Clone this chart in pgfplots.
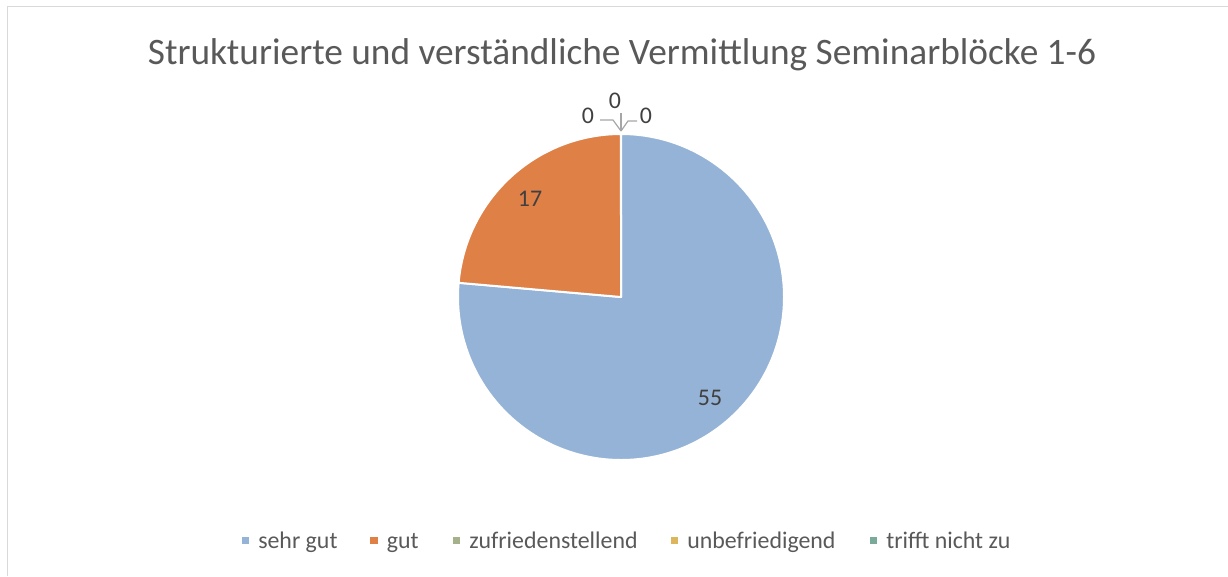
\documentclass[border=0pt]{standalone}
\usepackage{pgfplots}
\usepackage{pgfplotstable}
\pgfplotsset{compat=1.18}
\usepackage{fontspec}
\setmainfont{Carlito}
\definecolor{cA}{HTML}{95B3D7}
\definecolor{cB}{HTML}{DF8047}
\definecolor{cC}{HTML}{A4B18A}
\definecolor{cD}{HTML}{DDB55C}
\definecolor{cE}{HTML}{7BAA9A}
\definecolor{txt}{HTML}{595959}
\definecolor{lbl}{HTML}{404040}
\definecolor{lead}{HTML}{A6A6A6}
\definecolor{frame}{HTML}{D9D9D9}
\pgfplotstableread{
label value
sehr 55
gut 17
zuf 0
unb 0
tri 0
}\pietable
\newcommand\legitem[3]{%
  \fill[#2] (axis cs:#1-3.8,536.8) rectangle (axis cs:#1+3.8,544.4);
  \node[anchor=base west, inner sep=0pt, text=txt, font=\fontsize{17.9pt}{21pt}\selectfont] at (axis cs:#1+12.5,548.5) {#3};
}
\begin{document}
\begin{tikzpicture}
\pgfplotstablegetelem{0}{value}\of\pietable \let\vA\pgfplotsretval
\pgfplotstablegetelem{1}{value}\of\pietable \let\vB\pgfplotsretval
\pgfplotstablegetelem{2}{value}\of\pietable \let\vC\pgfplotsretval
\pgfplotstablegetelem{3}{value}\of\pietable \let\vD\pgfplotsretval
\pgfplotstablegetelem{4}{value}\of\pietable \let\vE\pgfplotsretval
\pgfmathsetmacro\total{\vA+\vB+\vC+\vD+\vE}
\pgfmathsetmacro\aEnd{90-360*(\vA/\total)}
\pgfmathsetmacro\bEnd{\aEnd-360*(\vB/\total)}
\begin{axis}[
  scale only axis, width=921pt, height=432pt,
  xmin=0, xmax=1228, ymin=0, ymax=576, y dir=reverse,
  hide axis, clip=false,
]
% frame (top and left edges visible)
\draw[frame, line width=1.2pt] (axis cs:7.5,576) -- (axis cs:7.5,6.5) -- (axis cs:1228,6.5);
% title
\node[anchor=base, text=txt, font=\fontsize{28pt}{33pt}\selectfont] at (axis cs:622,64) {Strukturierte und verständliche Vermittlung Seminarblöcke 1-6};
% pie sectors
\filldraw[fill=cA, draw=white, line width=1.5pt, line join=round] (axis cs:621,297) -- ++(90:122.25pt) arc[start angle=90, end angle=\aEnd, radius=122.25pt] -- cycle;
\filldraw[fill=cB, draw=white, line width=1.5pt, line join=round] (axis cs:621,297) -- ++(\aEnd:122.25pt) arc[start angle=\aEnd, end angle=\bEnd, radius=122.25pt] -- cycle;
% data labels
\node[text=lbl, font=\fontsize{17.9pt}{21pt}\selectfont] at (axis cs:710,398) {\vA};
\node[text=lbl, font=\fontsize{17.9pt}{21pt}\selectfont] at (axis cs:530,199) {\vB};
% zero labels with leader lines
\draw[lead, line width=0.9pt] (axis cs:600,120) -- (axis cs:613,120) -- (axis cs:621,131);
\draw[lead, line width=0.9pt] (axis cs:621,113) -- (axis cs:621,131);
\draw[lead, line width=0.9pt] (axis cs:637,121) -- (axis cs:628,121) -- (axis cs:621,131);
\node[text=lbl, font=\fontsize{17.9pt}{21pt}\selectfont] at (axis cs:588,116) {\vC};
\node[text=lbl, font=\fontsize{17.9pt}{21pt}\selectfont] at (axis cs:615,101) {\vD};
\node[text=lbl, font=\fontsize{17.9pt}{21pt}\selectfont] at (axis cs:646,116) {\vE};
% legend
\legitem{245.5}{cA}{sehr gut}
\legitem{374}{cB}{gut}
\legitem{456.5}{cC}{zufriedenstellend}
\legitem{674.5}{cD}{unbefriedigend}
\legitem{873.5}{cE}{trifft nicht zu}
\end{axis}
\pgfresetboundingbox
\useasboundingbox (0,0) rectangle (921pt,432pt);
\end{tikzpicture}
\end{document}
